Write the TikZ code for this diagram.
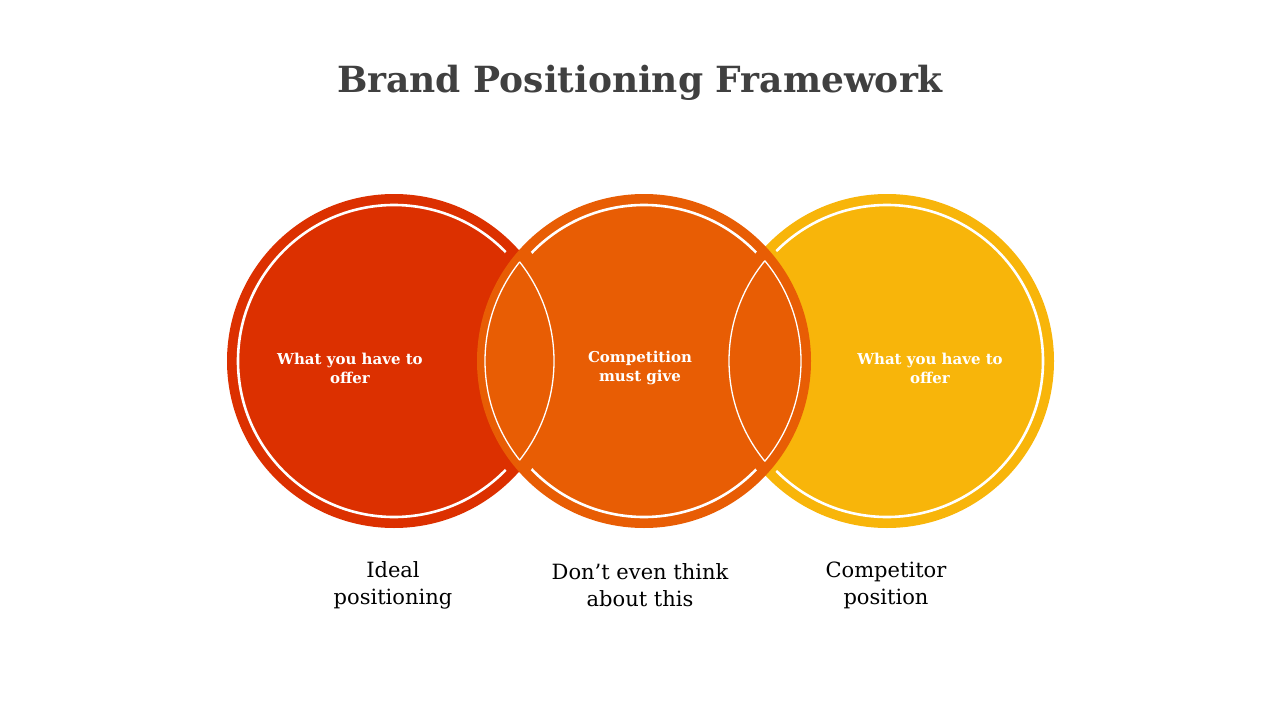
\documentclass[tikz,border=0pt]{standalone}
\usepackage{fontspec}
\setmainfont{DejaVu Serif}
\begin{document}
\begin{tikzpicture}[x=1pt,y=-1pt,
  wl/.style={white,line width=2.6pt},
  lens/.style={white,line width=1.3pt},
  lbl/.style={font=\fontsize{15}{19}\selectfont\bfseries,text=white,align=center},
  captxt/.style={font=\fontsize{21}{27}\selectfont,align=center}]
\useasboundingbox (0,0) rectangle (1280,720);
\definecolor{cR}{HTML}{DC3000}\definecolor{cO}{HTML}{E85D04}\definecolor{cY}{HTML}{F8B50A}
\coordinate (A) at (394,361); \coordinate (B) at (644,361); \coordinate (C) at (887,361);
\node[font=\fontsize{36}{40}\selectfont\bfseries,text=black!75] (t) at (640,83) {Brand Positioning Framework};
\fill[cR] (A) circle (167);
\fill[cY] (C) circle (167);
\fill[cO] (B) circle (167);
\begin{scope}[even odd rule]
\clip (0,0) rectangle (1280,720) (B) circle (176);
\draw[wl] (A) circle (156);
\end{scope}
\begin{scope}[even odd rule]
\clip (0,0) rectangle (1280,720) (B) circle (172);
\draw[wl] (C) circle (156);
\end{scope}
\begin{scope}[even odd rule]
\clip (0,0) rectangle (1280,720) (A) circle (175) (C) circle (170);
\draw[wl] (B) circle (156);
\end{scope}
\begin{scope}
\clip (A) circle (160);
\draw[lens] (B) circle (159);
\end{scope}
\begin{scope}
\clip (B) circle (159);
\draw[lens] (A) circle (160);
\end{scope}
\begin{scope}
\clip (C) circle (158);
\draw[lens] (B) circle (157);
\end{scope}
\begin{scope}
\clip (B) circle (157);
\draw[lens] (C) circle (158);
\end{scope}
\node[lbl] (l1) at (350,368) {What you have to\\offer};
\node[lbl] (l2) at (640,368) {Competition\\must give};
\node[lbl] (l3) at (930,368) {What you have to\\offer};
\node[captxt] (c1) at (393,585) {Ideal\\positioning};
\node[captxt] (c2) at (640,585) {Don’t even think\\about this};
\node[captxt] (c3) at (886,585) {Competitor\\position};
\end{tikzpicture}
\end{document}
